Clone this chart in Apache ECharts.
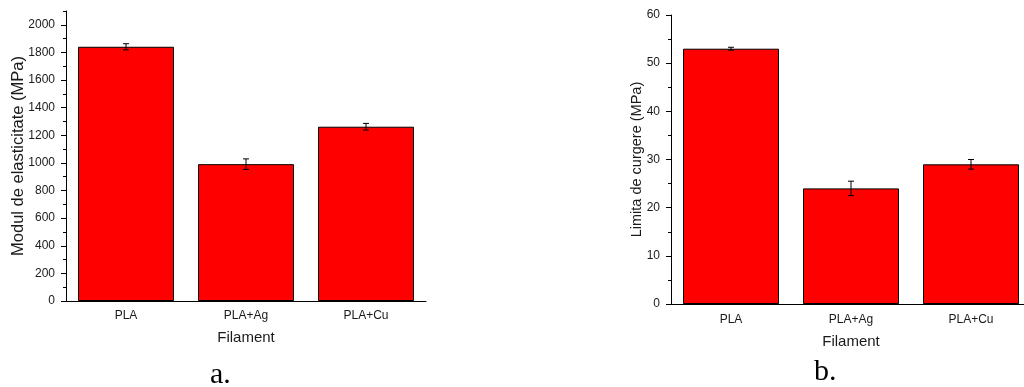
<!DOCTYPE html>
<html>
<head>
<meta charset="utf-8">
<script src="https://cdn.jsdelivr.net/npm/echarts@6/dist/echarts.min.js"></script>
<style>
html,body{margin:0;padding:0;background:#fff;}
#c{width:1024px;height:387px;}
</style>
</head>
<body>
<div id="c"></div>
<script>
const categories = ['PLA', 'PLA+Ag', 'PLA+Cu'];
const modulusValues = [1841, 991, 1262];
const modulusErrors = [22, 38, 24];
const yieldValues = [53, 24, 29];
const yieldErrors = [0.3, 1.5, 1.0];
const modulusTicks = [0, 200, 400, 600, 800, 1000, 1200, 1400, 1600, 1800, 2000];
const yieldTicks = [0, 10, 20, 30, 40, 50, 60];

const FONT = '"Liberation Sans", Arial, sans-serif';
const INK = '#000';
const TXT = '#1a1a1a';

function errData(vals, errs) {
  return vals.map((v, i) => [i, v + errs[i], v - errs[i]]);
}
function errRender(params, api) {
  const i = api.value(0);
  const hi = api.coord([i, api.value(1)]);
  const lo = api.coord([i, api.value(2)]);
  const w = 3;
  const st = { stroke: '#000', lineWidth: 1 };
  return {
    type: 'group',
    children: [
      { type: 'line', shape: { x1: hi[0], y1: hi[1], x2: lo[0], y2: lo[1] }, style: st },
      { type: 'line', shape: { x1: hi[0] - w, y1: hi[1], x2: hi[0] + w, y2: hi[1] }, style: st },
      { type: 'line', shape: { x1: lo[0] - w, y1: lo[1], x2: lo[0] + w, y2: lo[1] }, style: st }
    ]
  };
}

function xAxes(gridIndex, labelMargin, nameGap) {
  return [
    {
      type: 'category', gridIndex: gridIndex, data: categories, position: 'bottom',
      axisLine: { lineStyle: { color: INK, width: 1 } },
      axisTick: { alignWithLabel: true, length: 4, lineStyle: { color: INK } },
      axisLabel: { color: TXT, fontFamily: FONT, fontSize: 12, margin: labelMargin },
      name: 'Filament', nameLocation: 'middle', nameGap: nameGap,
      nameTextStyle: { color: TXT, fontFamily: FONT, fontSize: 15 }
    },
    {
      type: 'category', gridIndex: gridIndex, data: categories, position: 'bottom',
      axisLine: { show: false },
      axisTick: { length: 3, lineStyle: { color: INK } },
      axisLabel: { show: false }
    }
  ];
}

function yAxes(gridIndex, max, major, minor, ticks, name, nameGap, nameSize) {
  return [
    {
      type: 'value', gridIndex: gridIndex, min: 0, max: max, interval: minor, position: 'left',
      axisLine: { show: true, lineStyle: { color: INK, width: 1 } },
      axisTick: { show: true, length: 3, lineStyle: { color: INK } },
      axisLabel: { show: false },
      splitLine: { show: false },
      name: name, nameLocation: 'middle', nameGap: nameGap,
      nameTextStyle: { color: TXT, fontFamily: FONT, fontSize: nameSize }
    },
    {
      type: 'value', gridIndex: gridIndex, min: 0, max: max, interval: major, position: 'left', offset: 0,
      axisLine: { show: false },
      axisTick: { show: true, length: 5, customValues: ticks, lineStyle: { color: INK } },
      axisLabel: { show: true, customValues: ticks, color: TXT, fontFamily: FONT, fontSize: 12, margin: 11,
        formatter: v => String(v) },
      splitLine: { show: false }
    }
  ];
}

const chart = echarts.init(document.getElementById('c'), null, { renderer: 'canvas' });
const barStyle = { color: '#ff0000', borderColor: '#000', borderWidth: 1 };

chart.setOption({
  animation: false,
  backgroundColor: '#fff',
  grid: [
    { left: 66, top: 11, width: 360, height: 290, outerBoundsMode: 'none', containLabel: false },
    { left: 671, top: 15, width: 360, height: 289, outerBoundsMode: 'none', containLabel: false }
  ],
  xAxis: [].concat(xAxes(0, 9, 29), xAxes(1, 10, 30)),
  yAxis: [].concat(
    yAxes(0, 2100, 200, 100, modulusTicks, 'Modul de elasticitate (MPa)', 39, 16.5),
    yAxes(1, 60, 10, 5, yieldTicks, 'Limita de curgere (MPa)', 27, 14.5)
  ),
  series: [
    { type: 'bar', xAxisIndex: 0, yAxisIndex: 0, data: modulusValues, barWidth: '80%', itemStyle: barStyle },
    { type: 'custom', xAxisIndex: 0, yAxisIndex: 0, data: errData(modulusValues, modulusErrors), renderItem: errRender, z: 5 },
    { type: 'bar', xAxisIndex: 2, yAxisIndex: 2, data: yieldValues, barWidth: '80%', itemStyle: barStyle },
    { type: 'custom', xAxisIndex: 2, yAxisIndex: 2, data: errData(yieldValues, yieldErrors), renderItem: errRender, z: 5 }
  ],
  graphic: [
    { type: 'text', left: 210, top: 360, style: { text: 'a.', font: '30px "Liberation Serif", "Times New Roman", serif', fill: '#000' } },
    { type: 'text', left: 814, top: 357, style: { text: 'b.', font: '30px "Liberation Serif", "Times New Roman", serif', fill: '#000' } }
  ]
});
</script>
</body>
</html>
